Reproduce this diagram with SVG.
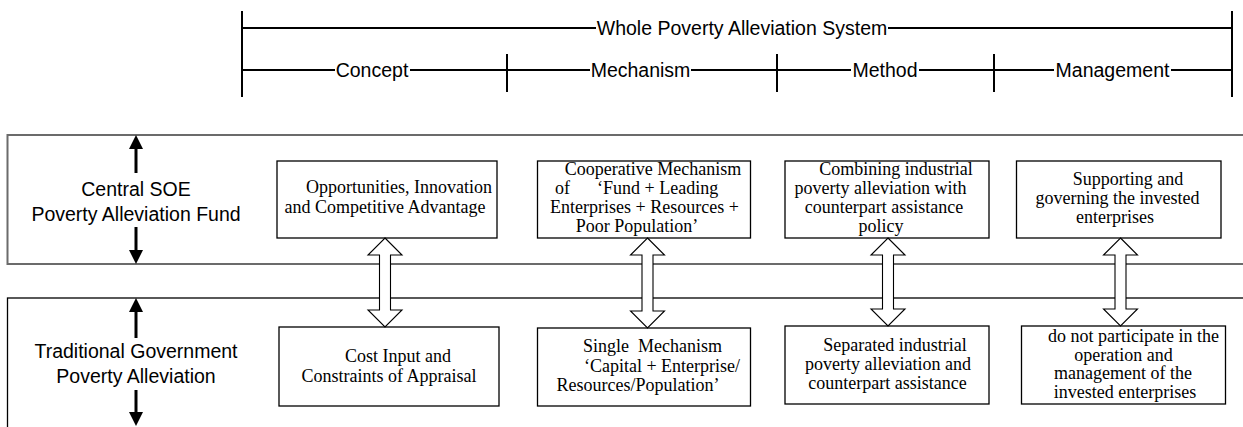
<svg xmlns="http://www.w3.org/2000/svg" width="1243" height="427" viewBox="0 0 1243 427">
  <style>
    .sans { font-family: "Liberation Sans", Arial, sans-serif; font-size: 19.5px; fill: #000; }
    .serif { font-family: "Liberation Serif", "Times New Roman", serif; font-size: 18px; fill: #000; }
    .mid { text-anchor: middle; }
    .rule { stroke: #000; stroke-width: 2; fill: none; }
    .box { fill: #fff; stroke: #000; stroke-width: 1.3; }
    .band-top { fill: #fff; stroke: #6b6b6b; stroke-width: 2; }
    .band-bottom { fill: #fff; stroke: #000; stroke-width: 1.3; }
    .hollow { fill: #fff; stroke: #000; stroke-width: 1.1; stroke-linejoin: miter; }
    .shaft { stroke: #000; stroke-width: 3; fill: none; }
  </style>
  <defs>
    <marker id="head" viewBox="0 0 14 14" refX="6" refY="7" markerWidth="14" markerHeight="14" markerUnits="userSpaceOnUse" orient="auto">
      <path d="M0,0 L14,7 L0,14 Z" fill="#000"/>
    </marker>
  </defs>

  <rect width="1243" height="427" fill="#fff"/>

  <!-- header scale: whole system and its four parts -->
  <g id="header">
    <line class="rule" x1="242" y1="11" x2="242" y2="97"/>
    <line class="rule" x1="1232" y1="11" x2="1232" y2="97"/>
    <line class="rule" x1="242" y1="28" x2="596" y2="28"/>
    <line class="rule" x1="888" y1="28" x2="1232" y2="28"/>
    <text class="sans mid" x="742" y="35">Whole Poverty Alleviation System</text>

    <line class="rule" x1="507" y1="54" x2="507" y2="92"/>
    <line class="rule" x1="777" y1="54" x2="777" y2="92"/>
    <line class="rule" x1="994" y1="54" x2="994" y2="92"/>
    <line class="rule" x1="242" y1="70" x2="335" y2="70"/>
    <line class="rule" x1="410" y1="70" x2="590" y2="70"/>
    <line class="rule" x1="691" y1="70" x2="851" y2="70"/>
    <line class="rule" x1="919" y1="70" x2="1054" y2="70"/>
    <line class="rule" x1="1171" y1="70" x2="1232" y2="70"/>
    <text class="sans mid" x="372" y="77">Concept</text>
    <text class="sans mid" x="640.5" y="77">Mechanism</text>
    <text class="sans mid" x="885" y="77">Method</text>
    <text class="sans mid" x="1112.5" y="77">Management</text>
  </g>

  <!-- the two horizontal bands -->
  <g id="band-soe-fund">
    <rect class="band-top" x="7.5" y="135" width="1250" height="129"/>
    <text class="sans mid" x="136" y="196">Central SOE</text>
    <text class="sans mid" x="136" y="221">Poverty Alleviation Fund</text>
  </g>
  <g id="band-traditional">
    <rect class="band-bottom" x="7.5" y="298" width="1250" height="140"/>
    <text class="sans mid" x="136" y="358">Traditional Government</text>
    <text class="sans mid" x="136" y="383">Poverty Alleviation</text>
  </g>

  <!-- upper row of boxes -->
  <g id="soe-concept">
    <rect class="box" x="277" y="161" width="220" height="77"/>
    <text class="serif mid" x="399" y="193">Opportunities, Innovation</text>
    <text class="serif mid" x="385" y="213">and Competitive Advantage</text>
  </g>
  <g id="soe-mechanism">
    <rect class="box" x="537.5" y="161" width="213" height="77"/>
    <text class="serif mid" x="653" y="175">Cooperative Mechanism</text>
    <text class="serif" y="194"><tspan x="555">of</tspan><tspan x="597">‘Fund + Leading</tspan></text>
    <text class="serif mid" x="644.5" y="213">Enterprises + Resources +</text>
    <text class="serif mid" x="637" y="232">Poor Population’</text>
  </g>
  <g id="soe-method">
    <rect class="box" x="785" y="161" width="204" height="77"/>
    <text class="serif mid" x="896" y="175">Combining industrial</text>
    <text class="serif mid" x="880.5" y="194">poverty alleviation with</text>
    <text class="serif mid" x="884" y="213">counterpart assistance</text>
    <text class="serif mid" x="881" y="232">policy</text>
  </g>
  <g id="soe-management">
    <rect class="box" x="1016.5" y="161" width="204.5" height="77"/>
    <text class="serif mid" x="1128" y="185">Supporting and</text>
    <text class="serif mid" x="1117.5" y="204">governing the invested</text>
    <text class="serif mid" x="1115" y="223">enterprises</text>
  </g>

  <!-- lower row of boxes -->
  <g id="gov-concept">
    <rect class="box" x="279" y="327" width="220" height="79"/>
    <text class="serif mid" x="398" y="362">Cost Input and</text>
    <text class="serif mid" x="389" y="382">Constraints of Appraisal</text>
  </g>
  <g id="gov-mechanism">
    <rect class="box" x="537.5" y="328" width="213" height="78"/>
    <text class="serif" y="352"><tspan x="583">Single</tspan><tspan x="638">Mechanism</tspan></text>
    <text class="serif mid" x="662" y="372">‘Capital + Enterprise/</text>
    <text class="serif mid" x="638" y="391">Resources/Population’</text>
  </g>
  <g id="gov-method">
    <rect class="box" x="785" y="326" width="204" height="78"/>
    <text class="serif mid" x="895" y="351">Separated industrial</text>
    <text class="serif mid" x="888" y="370">poverty alleviation and</text>
    <text class="serif mid" x="887.5" y="389">counterpart assistance</text>
  </g>
  <g id="gov-management">
    <rect class="box" x="1021.5" y="326" width="204" height="78"/>
    <text class="serif mid" x="1133.5" y="342">do not participate in the</text>
    <text class="serif mid" x="1123.5" y="360.5">operation and</text>
    <text class="serif mid" x="1123" y="379">management of the</text>
    <text class="serif mid" x="1125" y="397.5">invested enterprises</text>
  </g>

  <!-- connectors: side arrows and hollow double arrows between rows -->
  <g id="connectors">
    <line class="shaft" x1="136" y1="173" x2="136" y2="143" marker-end="url(#head)"/>
    <line class="shaft" x1="136" y1="227" x2="136" y2="256" marker-end="url(#head)"/>
    <line class="shaft" x1="136" y1="338" x2="136" y2="306" marker-end="url(#head)"/>
    <line class="shaft" x1="136" y1="390" x2="136" y2="418" marker-end="url(#head)"/>

    <path class="hollow" d="M385,238 L402,255 L390.5,255 L390.5,310 L402,310 L385,327 L368,310 L379.5,310 L379.5,255 L368,255 Z"/>
    <path class="hollow" d="M647.5,238 L664.5,255 L653,255 L653,311 L664.5,311 L647.5,328 L630.5,311 L642,311 L642,255 L630.5,255 Z"/>
    <path class="hollow" d="M888,238 L905,255 L893.5,255 L893.5,309 L905,309 L888,326 L871,309 L882.5,309 L882.5,255 L871,255 Z"/>
    <path class="hollow" d="M1120.5,238 L1137.5,255 L1126,255 L1126,309 L1137.5,309 L1120.5,326 L1103.5,309 L1115,309 L1115,255 L1103.5,255 Z"/>
  </g>
</svg>
